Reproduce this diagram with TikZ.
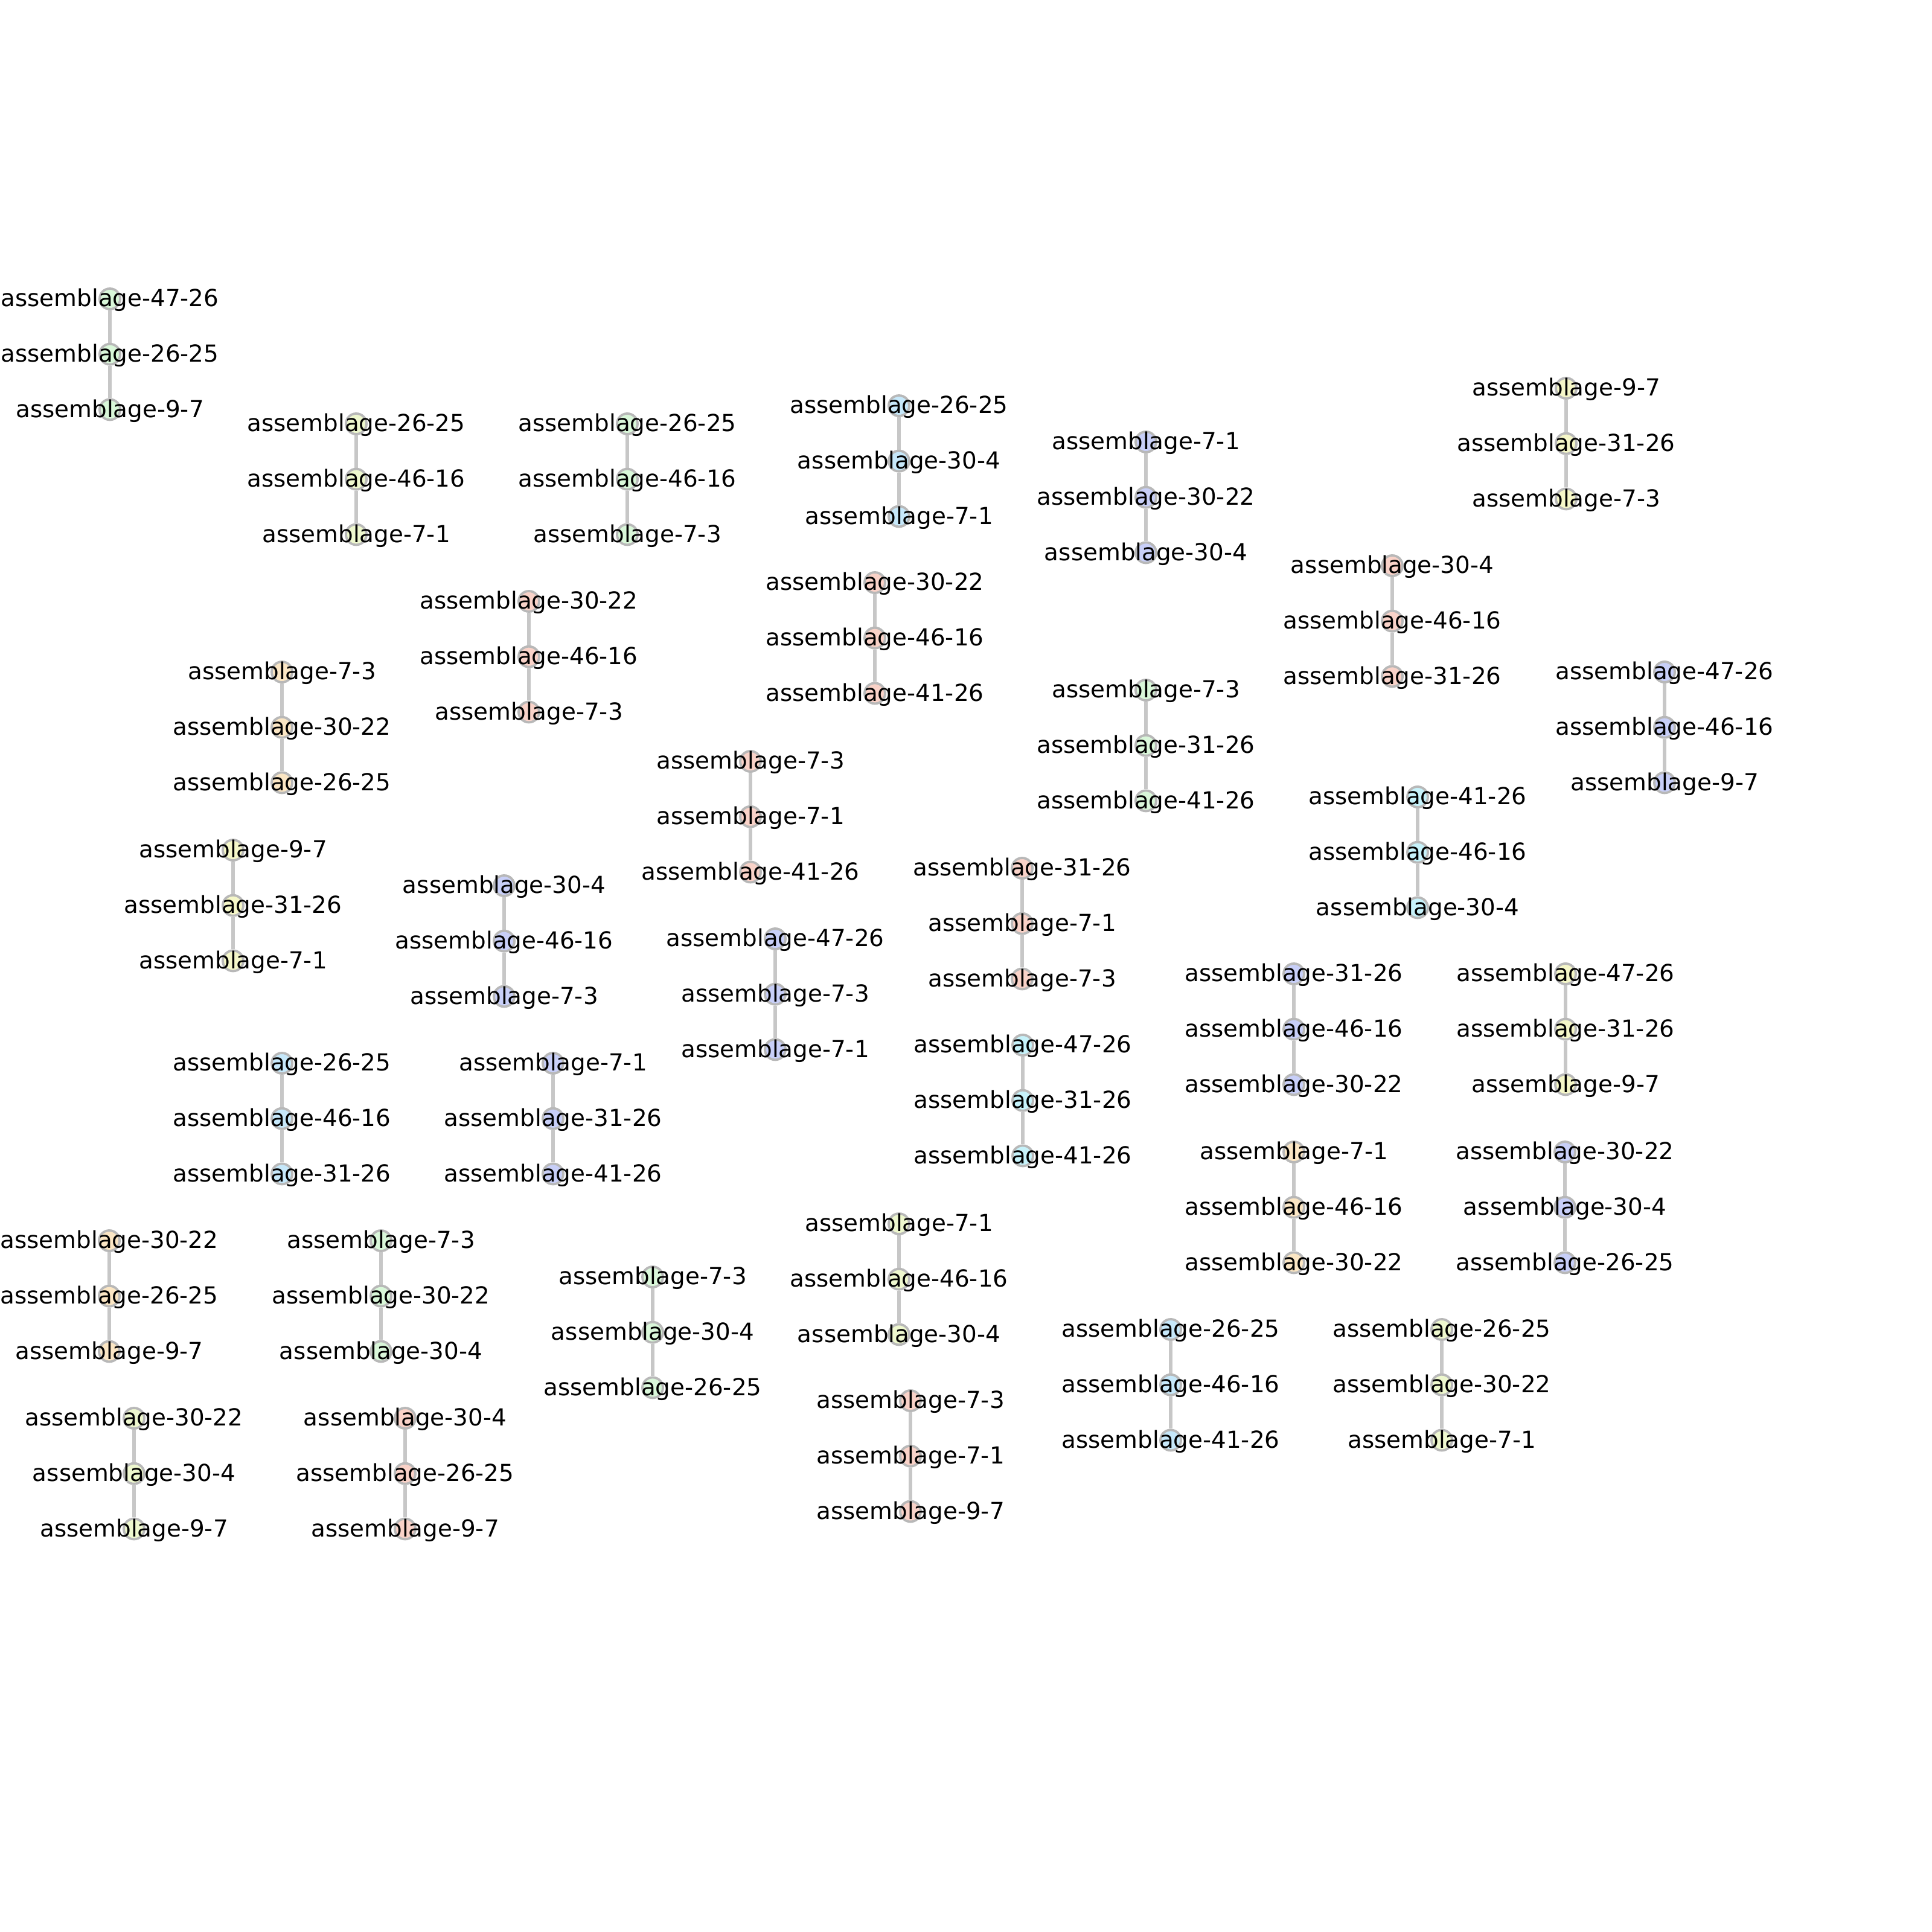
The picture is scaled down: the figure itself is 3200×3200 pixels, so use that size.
\documentclass[tikz,border=0pt]{standalone}
\usepackage{fontspec}
\setmainfont{DejaVu Sans}
\usetikzlibrary{backgrounds}
\definecolor{cgreen}{HTML}{D9F7D9}
\definecolor{cyelgreen}{HTML}{EEF8CE}
\definecolor{cltblue}{HTML}{C6E8FA}
\definecolor{clavender}{HTML}{C8CFF8}
\definecolor{cyellow}{HTML}{F5F7C8}
\definecolor{csalmon}{HTML}{F9D2C8}
\definecolor{ctan}{HTML}{FBE6C4}
\definecolor{ccyan}{HTML}{C6F2FA}
\tikzset{
  asm/.style={circle,draw=black!28,line width=1.1pt,minimum size=0.34cm,inner sep=0pt},
  asmlbl/.style={font=\fontsize{11.05}{13}\selectfont,inner sep=0pt,text=black,yshift=-0.6pt},
  link/.style={draw=black!22,line width=1.6pt}
}
\begin{document}
\begin{tikzpicture}[x=0.01cm,y=-0.01cm]
\useasboundingbox (0,0) rectangle (3200,3200);
\foreach \px/\py/\col/\la/\lb/\lc [count=\i] in {
  182/495/cgreen/47-26/26-25/9-7,
  590/702/cyelgreen/26-25/46-16/7-1,
  1039/702/cgreen/26-25/46-16/7-3,
  1489/672/cltblue/26-25/30-4/7-1,
  1898/732/clavender/7-1/30-22/30-4,
  2594/643/cyellow/9-7/31-26/7-3,
  876/996/csalmon/30-22/46-16/7-3,
  1449/965/csalmon/30-22/46-16/41-26,
  2306/937/csalmon/30-4/46-16/31-26,
  467/1113/ctan/7-3/30-22/26-25,
  1898/1143/cgreen/7-3/31-26/41-26,
  2757/1113/clavender/47-26/46-16/9-7,
  1243/1261/csalmon/7-3/7-1/41-26,
  2348/1320/ccyan/41-26/46-16/30-4,
  386/1408/cyellow/9-7/31-26/7-1,
  835/1467/clavender/30-4/46-16/7-3,
  1693/1438/csalmon/31-26/7-1/7-3,
  1284/1555/clavender/47-26/7-3/7-1,
  2143/1613/clavender/31-26/46-16/30-22,
  2593/1613/cyellow/47-26/31-26/9-7,
  467/1761/cltblue/26-25/46-16/31-26,
  916/1761/clavender/7-1/31-26/41-26,
  1694/1731/ccyan/47-26/31-26/41-26,
  2143/1908/ctan/7-1/46-16/30-22,
  2592/1908/clavender/30-22/30-4/26-25,
  181/2055/ctan/30-22/26-25/9-7,
  631/2055/cgreen/7-3/30-22/30-4,
  1081/2115/cgreen/7-3/30-4/26-25,
  1489/2027/cyelgreen/7-1/46-16/30-4,
  1939/2202/cltblue/26-25/46-16/41-26,
  2388/2202/cyelgreen/26-25/30-22/7-1,
  222/2349/cyelgreen/30-22/30-4/9-7,
  671/2349/csalmon/30-4/26-25/9-7,
  1508/2320/csalmon/7-3/7-1/9-7}{
  \node[asm,fill=\col,label={[asmlbl]center:assemblage-\la}] (a\i) at (\px,\py) {};
  \node[asm,fill=\col,label={[asmlbl]center:assemblage-\lb}] (b\i) at (\px,\py+91.7) {};
  \node[asm,fill=\col,label={[asmlbl]center:assemblage-\lc}] (c\i) at (\px,\py+183.4) {};
  \begin{pgfonlayer}{background}
    \draw[link] (a\i) -- (b\i) -- (c\i);
  \end{pgfonlayer}
}
\end{tikzpicture}
\end{document}
